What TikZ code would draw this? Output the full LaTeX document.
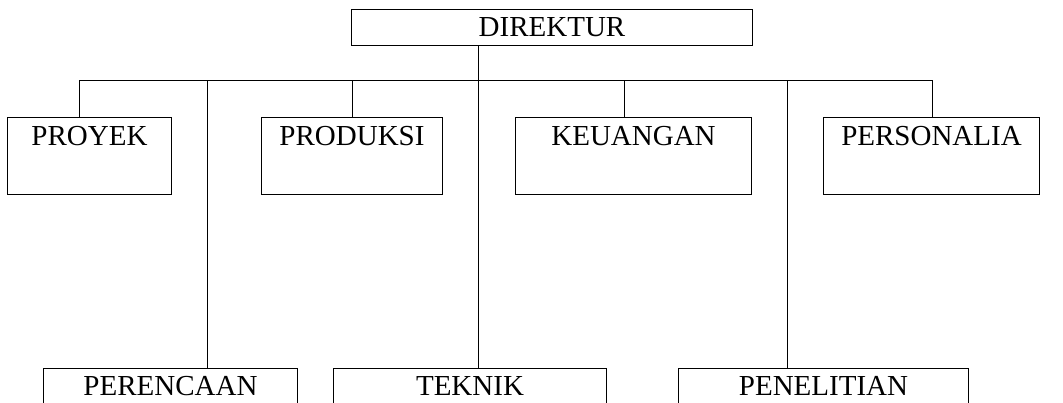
\documentclass[tikz,border=0pt]{standalone}
\usepackage{fontspec}
\setmainfont{Liberation Serif}
\begin{document}
\begin{tikzpicture}[x=1pt,y=-1pt,
  orgbox/.style={draw, line width=1pt, inner sep=0pt, anchor=north west,
    font=\fontsize{29}{30}\selectfont, text height=28pt, text depth=49pt},
  lowbox/.style={orgbox, text height=27pt, text depth=40pt},
  topbox/.style={orgbox, text height=27pt, text depth=9pt},
  link/.style={line width=1pt}]
\useasboundingbox (0,0) rectangle (1063,402);
\clip (0,0) rectangle (1063,402);
% boxes
\node[topbox, minimum width=401pt] (dir) at (351,9) {DIREKTUR};
\node[orgbox, minimum width=164pt] (proyek) at (7,117) {PROYEK};
\node[orgbox, minimum width=181pt] (produksi) at (261,117) {PRODUKSI};
\node[orgbox, minimum width=236pt] (keuangan) at (515,117) {KEUANGAN};
\node[orgbox, minimum width=216pt] (personalia) at (823,117) {PERSONALIA};
\node[lowbox, minimum width=254pt] (perencanaan) at (43,368) {PERENCAAN};
\node[lowbox, minimum width=273pt] (teknik) at (333,368) {TEKNIK};
\node[lowbox, minimum width=290pt] (penelitian) at (678,368) {PENELITIAN};
% bus points
\coordinate (bL) at (79,80);
\coordinate (bA) at (207,80);
\coordinate (bP) at (352,80);
\coordinate (bC) at (478,80);
\coordinate (bK) at (624,80);
\coordinate (bB) at (787,80);
\coordinate (bR) at (932,80);
% connectors
\draw[link] (dir.south -| bC) -- (bC);
\draw[link] (bL) -- (bR);
\draw[link] (bL) -- (proyek.north -| bL);
\draw[link] (bP) -- (produksi.north -| bP);
\draw[link] (bK) -- (keuangan.north -| bK);
\draw[link] (bR) -- (personalia.north -| bR);
\draw[link] (bA) -- (perencanaan.north -| bA);
\draw[link] (bC) -- (teknik.north -| bC);
\draw[link] (bB) -- (penelitian.north -| bB);
\end{tikzpicture}
\end{document}
